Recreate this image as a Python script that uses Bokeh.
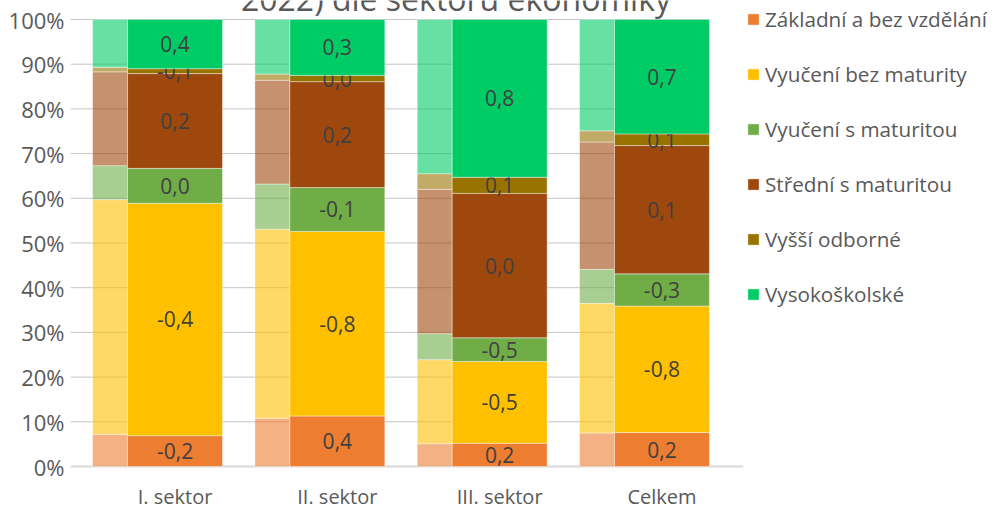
import numpy as np
from bokeh.plotting import figure
from bokeh.models import ColumnDataSource, Legend, LegendItem, FixedTicker, Label
from bokeh.core.properties import value
from bokeh.embed import file_html
from bokeh.resources import INLINE

# ---------------- data ----------------
categories = ["I. sektor", "II. sektor", "III. sektor", "Celkem"]
levels = ["Základní a bez vzdělání", "Vyučení bez maturity", "Vyučení s maturitou",
          "Střední s maturitou", "Vyšší odborné", "Vysokoškolské"]
colors = ["#ED7D31", "#FFC000", "#70AD47", "#9E480E", "#997300", "#00CC66"]

# previous year shares (%) – light bars
zakladni_prev = [7.2, 10.8, 5.1, 7.5]
vyuceni_bez_prev = [52.5, 42.3, 18.8, 29.0]
vyuceni_s_prev = [7.6, 10.1, 5.8, 7.6]
stredni_prev = [21.0, 23.2, 32.3, 28.5]
vyssi_prev = [1.0, 1.4, 3.5, 2.5]
vs_prev = [10.7, 12.2, 34.5, 24.9]

# current year shares (%) – dark bars
zakladni_curr = [6.9, 11.3, 5.2, 7.6]
vyuceni_bez_curr = [52.0, 41.3, 18.3, 28.3]
vyuceni_s_curr = [7.8, 9.8, 5.3, 7.2]
stredni_curr = [21.2, 23.7, 32.3, 28.7]
vyssi_curr = [1.1, 1.4, 3.6, 2.6]
vs_curr = [11.0, 12.5, 35.3, 25.6]

# change labels (p.b.)
zakladni_chg = ["-0,2", "0,4", "0,2", "0,2"]
vyuceni_bez_chg = ["-0,4", "-0,8", "-0,5", "-0,8"]
vyuceni_s_chg = ["0,0", "-0,1", "-0,5", "-0,3"]
stredni_chg = ["0,2", "0,2", "0,0", "0,1"]
vyssi_chg = ["-0,1", "0,0", "0,1", "0,1"]
vs_chg = ["0,4", "0,3", "0,8", "0,7"]

y_ticks = [0, 10, 20, 30, 40, 50, 60, 70, 80, 90, 100]
y_tick_labels = ["0%", "10%", "20%", "30%", "40%", "50%", "60%", "70%", "80%", "90%", "100%"]
title_text = "2022) dle sektoru ekonomiky"

prev = [zakladni_prev, vyuceni_bez_prev, vyuceni_s_prev, stredni_prev, vyssi_prev, vs_prev]
curr = [zakladni_curr, vyuceni_bez_curr, vyuceni_s_curr, stredni_curr, vyssi_curr, vs_curr]
chg = [zakladni_chg, vyuceni_bez_chg, vyuceni_s_chg, stredni_chg, vyssi_chg, vs_chg]

# ---------------- layout constants ----------------
FONT = "Open Sans"
W, H = 996, 507
X_START = -0.644
X_END = 5.061
Y_START = -9.172
Y_END = 104.251
DARK_W = 0.585
LIGHT_L = -0.508
LIGHT_R = -DARK_W / 2

xs = np.arange(len(categories), dtype=float)

p = figure(width=W, height=H, x_range=(X_START, X_END), y_range=(Y_START, Y_END),
           output_backend="svg", toolbar_location=None, x_axis_location=None,
           min_border_left=70, min_border_right=0, min_border_top=0, min_border_bottom=0)
p.outline_line_color = None
p.xgrid.visible = False
p.ygrid.visible = False

# y axis
ax = p.yaxis[0]
ax.ticker = FixedTicker(ticks=y_ticks)
ax.major_label_overrides = {t: l for t, l in zip(y_ticks, y_tick_labels)}
ax.axis_line_color = None
ax.major_tick_line_color = None
ax.minor_tick_line_color = None
ax.major_label_standoff = 0
ax.major_label_text_font = FONT
ax.major_label_text_font_size = "22px"
ax.major_label_text_color = "#595959"

# gridlines (only over the bar area)
grid_x1 = xs[-1] + DARK_W / 2
gt = [t for t in y_ticks if t > 0]
p.segment(x0=[X_START] * len(gt), x1=[grid_x1] * len(gt), y0=gt, y1=gt,
          line_color="#c4c4c4", line_width=1)
# category axis line
p.segment(x0=[X_START], x1=[xs[-1] + 0.5], y0=[0], y1=[0], line_color="#d9d9d9", line_width=2)

# light (previous) bars
bottom = np.zeros(len(categories))
for vals, col in zip(prev, colors):
    v = np.array(vals)
    p.vbar(x=xs + (LIGHT_L + LIGHT_R) / 2, width=LIGHT_R - LIGHT_L, bottom=bottom, top=bottom + v,
           fill_color=col, fill_alpha=0.6, line_color="white", line_alpha=0.5, line_width=0.8)
    bottom = bottom + v

# dark (current) bars + labels
bottom = np.zeros(len(categories))
items = []
for vals, col, lab, name in zip(curr, colors, chg, levels):
    v = np.array(vals)
    r = p.vbar(x=xs, width=DARK_W, bottom=bottom, top=bottom + v,
               fill_color=col, line_color="white", line_alpha=0.5, line_width=0.8)
    src = ColumnDataSource(dict(x=xs, y=bottom + v / 2, t=lab))
    p.text(x="x", y="y", text="t", source=src, text_align="center", text_baseline="middle",
           text_font=value(FONT), text_font_size="21px", text_color="#404040")
    items.append(LegendItem(label=name, renderers=[r]))
    bottom = bottom + v

# category labels
csrc = ColumnDataSource(dict(x=xs, y=[-6.75] * len(xs), t=categories))
p.text(x="x", y="y", text="t", source=csrc, text_align="center", text_baseline="middle",
       text_font=value(FONT), text_font_size="20px", text_color="#595959")

# title (clipped at top like the reference)
p.add_layout(Label(x=1.731, y=104.7, text=title_text, text_align="center",
                   text_baseline="middle", text_font=FONT, text_font_size="32px",
                   text_color="#595959"))

legend = Legend(items=items, location=(676, 199), orientation="vertical",
                glyph_width=14, glyph_height=14, label_standoff=5, spacing=27,
                padding=0, margin=0, border_line_color=None, background_fill_alpha=0,
                label_text_font=FONT, label_text_font_size="20.7px", label_text_color="#595959")
p.add_layout(legend)

open("out.html", "w").write(file_html(p, INLINE))
